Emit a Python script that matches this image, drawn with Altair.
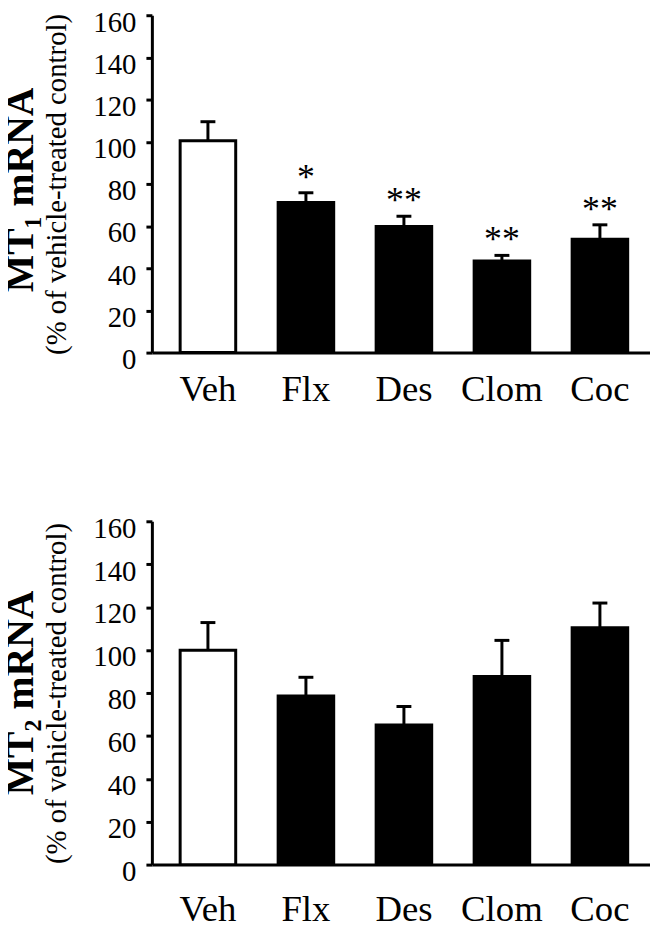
import altair as alt
import pandas as pd

categories = ["Veh", "Flx", "Des", "Clom", "Coc"]
groups = ["vehicle", "drug", "drug", "drug", "drug"]

mt1_mean = [100.5, 71.2, 59.8, 43.5, 53.8]
mt1_sem = [9.0, 4.6, 4.9, 2.6, 6.8]
mt1_sig = ["", "*", "**", "**", "**"]

mt2_mean = [99.9, 78.6, 65.1, 87.7, 110.4]
mt2_sem = [12.9, 8.7, 8.6, 16.8, 11.5]
mt2_sig = ["", "", "", "", ""]

y_ticks = [0, 20, 40, 60, 80, 100, 120, 140, 160]

FONT = "Liberation Serif"


def panel(mean, sem, sig, title, x_label_pad, title_dx, height):
    df = pd.DataFrame({
        "cat": categories,
        "group": groups,
        "mean": mean,
        "upper": [m + s for m, s in zip(mean, sem)],
        "sig": sig,
    })
    x = alt.X(
        "cat:N",
        sort=categories,
        scale=alt.Scale(paddingInner=0.433, paddingOuter=0.258, align=0.559),
        axis=alt.Axis(title=None, labelPadding=x_label_pad),
    )
    y_scale = alt.Scale(domain=[0, 160], nice=False, zero=True)
    y_axis = alt.Axis(values=y_ticks, title="(% of vehicle-treated control)")
    base = alt.Chart(df)
    bars = base.mark_bar(stroke="black", strokeWidth=3).encode(
        x=x,
        y=alt.Y("mean:Q", scale=y_scale, axis=y_axis),
        fill=alt.Fill("group:N", scale=alt.Scale(domain=["vehicle", "drug"],
                                                 range=["white", "black"]),
                      legend=None),
    )
    rule = base.mark_rule(color="black", strokeWidth=3).encode(
        x=x,
        y=alt.Y("mean:Q", scale=y_scale, axis=y_axis),
        y2="upper:Q",
    )
    cap = base.mark_tick(color="black", thickness=3, size=15, opacity=1).encode(
        x=x,
        y=alt.Y("upper:Q", scale=y_scale, axis=y_axis),
    )
    stars = base.mark_text(font=FONT, fontSize=36, baseline="alphabetic",
                           dy=-4, color="black").encode(
        x=x,
        y=alt.Y("upper:Q", scale=y_scale, axis=y_axis),
        text="sig:N",
    )
    return alt.layer(bars, rule, cap, stars).properties(
        width=502, height=height,
        title=alt.TitleParams(text=title, orient="left", font=FONT,
                              fontSize=40, fontWeight="bold", color="black",
                              offset=2, dx=title_dx),
    )


top = panel(mt1_mean, mt1_sem, mt1_sig, "MT\u2081 mRNA", 19, -6, 340)
bottom = panel(mt2_mean, mt2_sem, mt2_sig, "MT\u2082 mRNA", 27, 0, 346)

chart = alt.vconcat(top, bottom, spacing=108).properties(
    padding={"left": -7, "top": -3.3, "right": 0, "bottom": 0},
    background="white",
).configure_view(
    stroke=None
).configure_axis(
    labelFont=FONT, titleFont=FONT, labelColor="black", titleColor="black",
    domainColor="black", tickColor="black", domainWidth=3, tickWidth=3,
    grid=False,
).configure_axisX(
    labelAngle=0, ticks=False, tickSize=0, labelFontSize=37,
).configure_axisY(
    labelFontSize=29, labelPadding=10, labelOffset=7, tickSize=6,
    titleFontSize=29, titleFontWeight="normal", titlePadding=21.5,
)

chart.save("out.html", embed_options={"renderer": "svg", "actions": False})
